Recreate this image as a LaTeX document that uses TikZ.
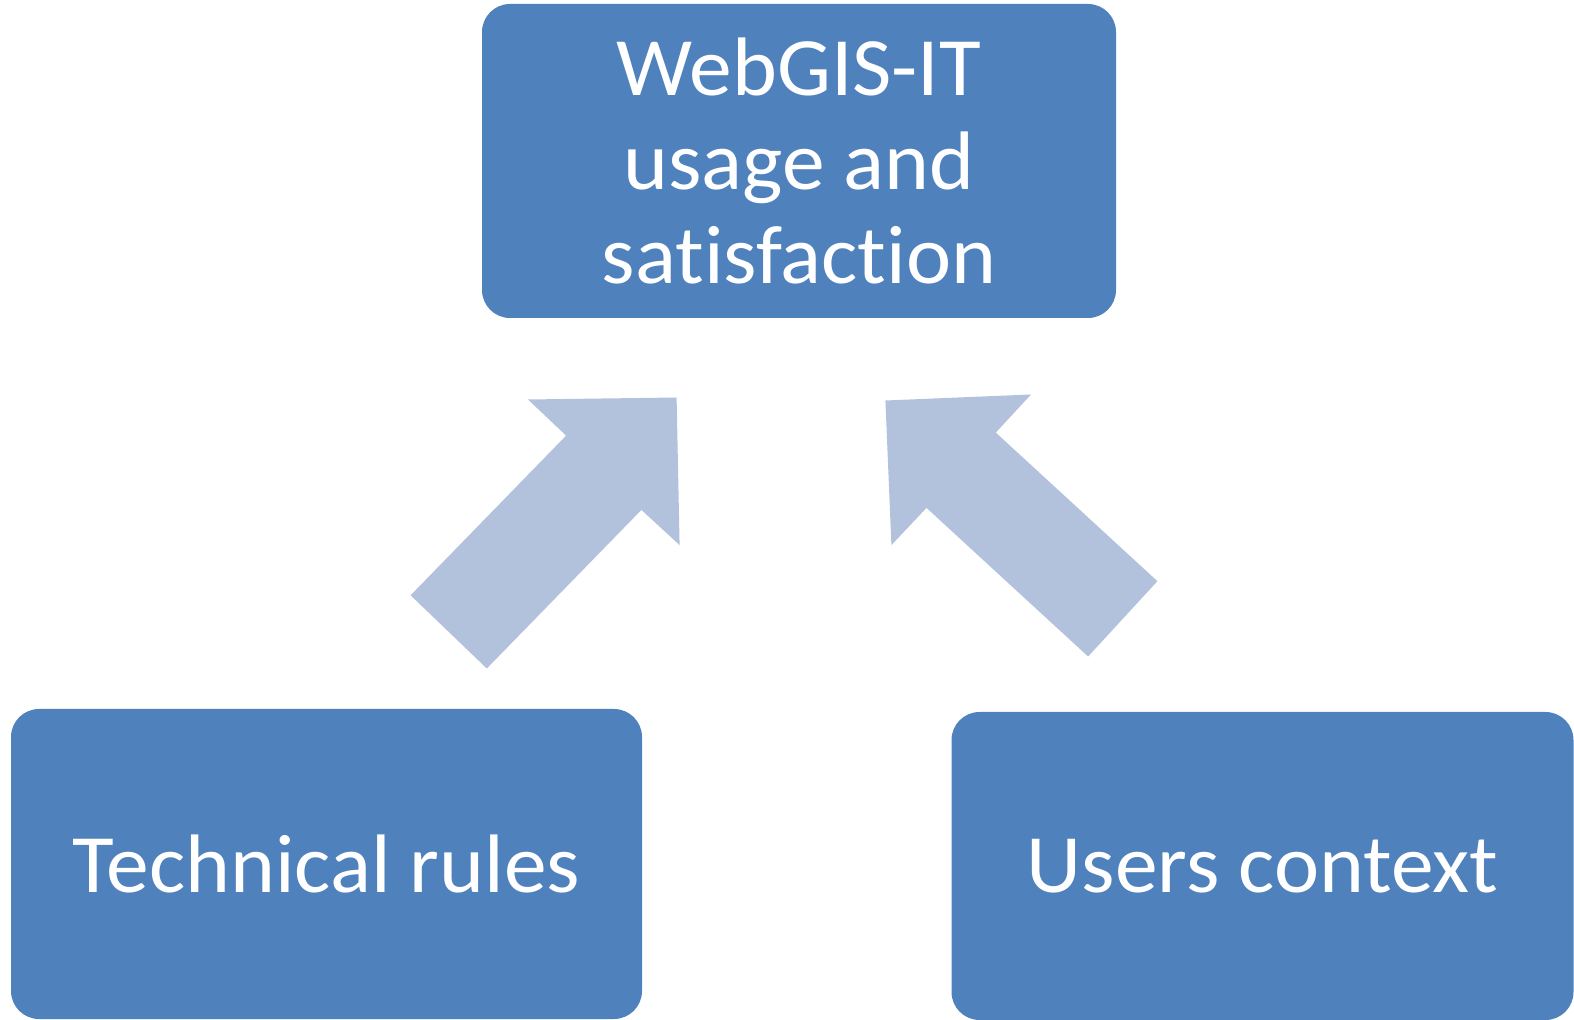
\documentclass[tikz,border=0pt]{standalone}
\usepackage{fontspec}
\setmainfont{Carlito}[Ligatures=NoCommon, FakeStretch=1.03]
\usepackage{tikz}
\usetikzlibrary{positioning}
\definecolor{boxblue}{HTML}{4F81BD}
\definecolor{arrowblue}{HTML}{B3C2DC}
\tikzset{
  topic/.style={fill=boxblue, draw=none, rounded corners=14pt, text=white, align=center,
    font=\fontsize{41.5}{47}\selectfont, inner sep=0pt},
  bigarrow/.style={fill=arrowblue, draw=none}
}
\begin{document}
\begin{tikzpicture}[x=0.5pt, y=-0.5pt]
		%% page size of the picture
		\useasboundingbox (0,0) rectangle (1574,1020);
		%% the three boxes
		\node[topic, minimum width=317pt, minimum height=157pt] (usage) at (799,161) {WebGIS-IT\\usage and\\satisfaction};
		\node[topic, minimum width=315.5pt, minimum height=155pt] (rules) at (326.5,864) {Technical rules};
		\node[topic, minimum width=311pt, minimum height=154pt] (context) at (1262.5,866) {Users context};
		%% the two block arrows pointing up to the top box
		\fill[bigarrow] (410.6,595.3) -- (566.1,435.6) -- (528,399.5) -- (676.6,397.5) -- (679.6,545.1) -- (641.4,509.9) -- (486.8,668.5) -- cycle;
		\fill[bigarrow] (1157.4,581.2) -- (995.8,432.6) -- (1031,394.5) -- (885.4,400.5) -- (891.4,545.1) -- (926.5,507.9) -- (1088.1,656.5) -- cycle;
	\end{tikzpicture}
\end{document}
